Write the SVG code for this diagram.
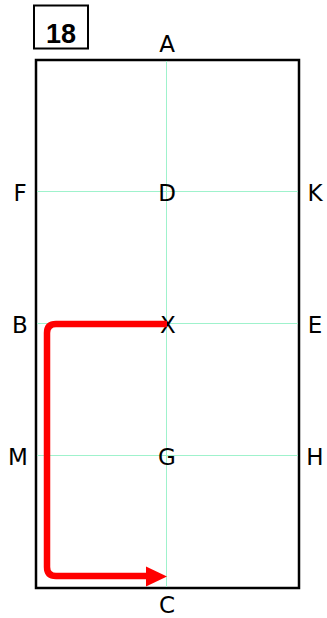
<svg xmlns="http://www.w3.org/2000/svg" width="327" height="618" viewBox="0 0 327 618">
<style>
.lbl{font-family:"DejaVu Sans",Verdana,sans-serif;font-size:23px;fill:#000;text-anchor:middle}
.num{font-family:"Liberation Sans",Arial,sans-serif;font-size:27px;font-weight:bold;fill:#000;text-anchor:middle}
.grid{stroke:#9ff2cc;stroke-width:1;fill:none;shape-rendering:crispEdges}
</style>
<rect width="327" height="618" fill="#fff"/>
<g id="number">
<rect x="34" y="5.5" width="54" height="43" fill="#fff" stroke="#000" stroke-width="2"/>
<text x="61" y="42.5" class="num">18</text>
</g>
<g id="court">
<rect x="36" y="60" width="263" height="528" fill="#fff" stroke="#000" stroke-width="2.5"/>
<line class="grid" x1="166.5" y1="61" x2="166.5" y2="587"/>
<line class="grid" x1="37" y1="191.5" x2="298" y2="191.5"/>
<line class="grid" x1="37" y1="323.5" x2="298" y2="323.5"/>
<line class="grid" x1="37" y1="455.5" x2="298" y2="455.5"/>
</g>
<g id="labels">
<text class="lbl" x="167" y="52">A</text>
<text class="lbl" x="167" y="201">D</text>
<text class="lbl" x="168" y="333">X</text>
<text class="lbl" x="167" y="465">G</text>
<text class="lbl" x="167" y="613">C</text>
<text class="lbl" x="20" y="201">F</text>
<text class="lbl" x="20" y="333">B</text>
<text class="lbl" x="18" y="465">M</text>
<text class="lbl" x="315" y="201">K</text>
<text class="lbl" x="315" y="333">E</text>
<text class="lbl" x="315" y="465">H</text>
</g>
<g id="connectors">
<path d="M167,324 H56 Q47,324 47,333 V567 Q47,576 56,576 H148" fill="none" stroke="#f00" stroke-width="6.5"/>
<polygon points="146,566.5 167,576.5 146,586.5" fill="#f00"/>
</g>
</svg>
